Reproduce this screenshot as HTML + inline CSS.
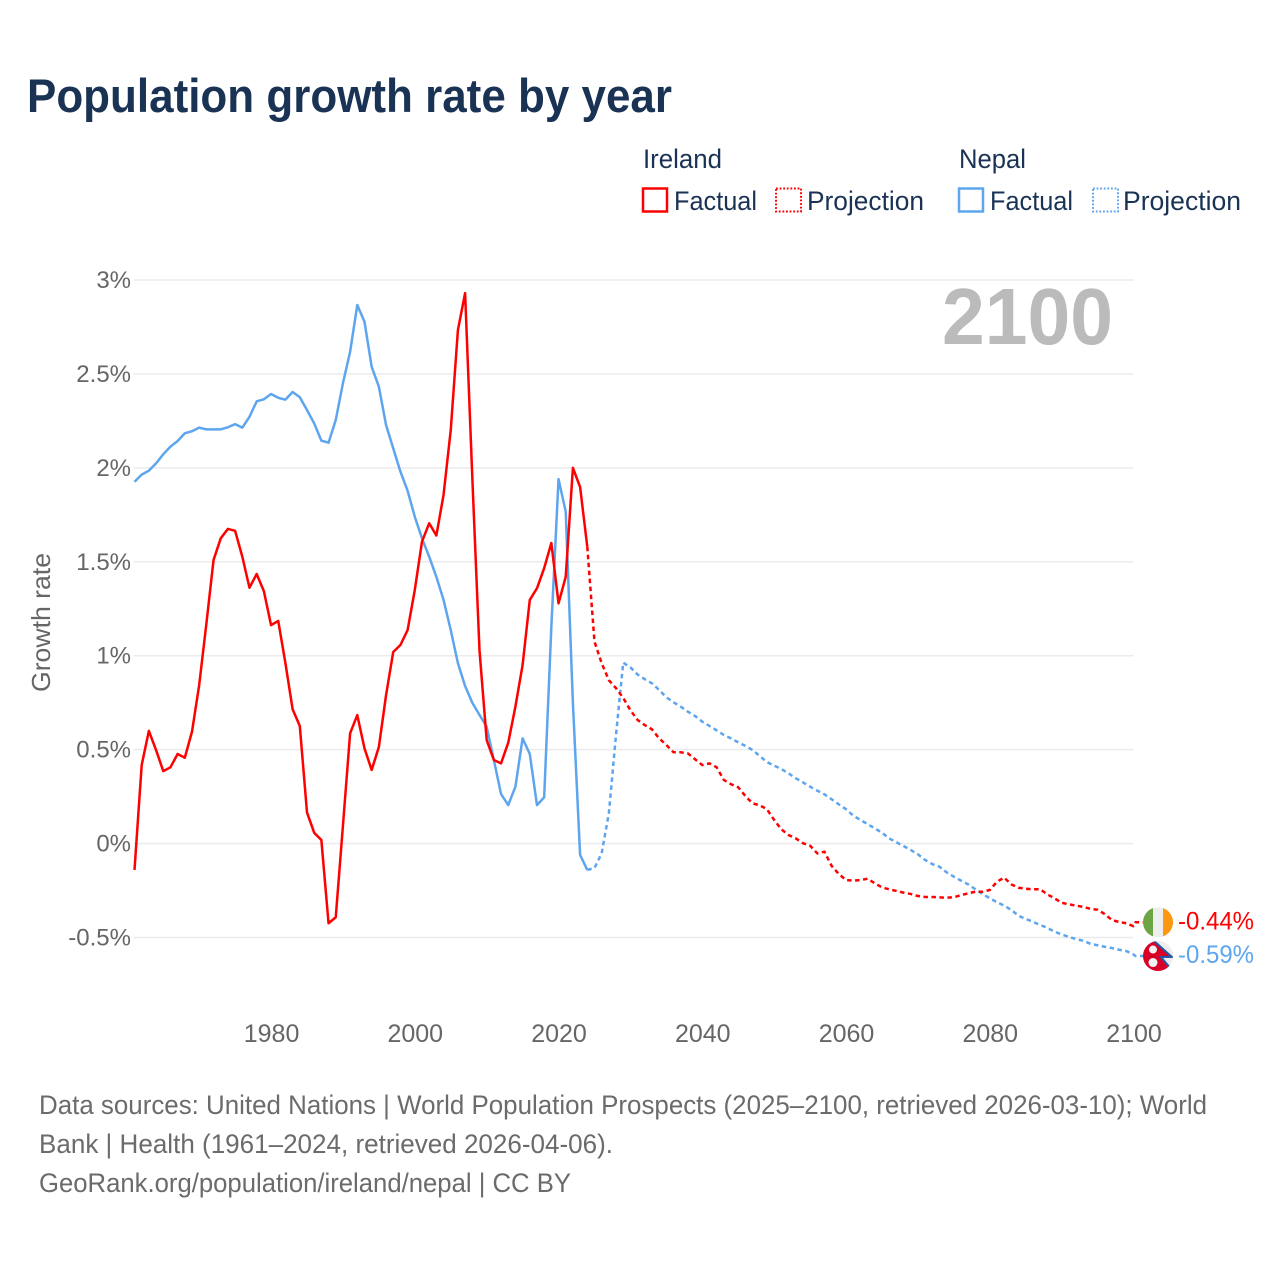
<!DOCTYPE html>
<html lang="en">
<head>
<meta charset="utf-8">
<title>Population growth rate by year</title>
<style>
  html, body { margin: 0; padding: 0; background: #fff; }
  svg { display: block; font-family: "Liberation Sans", sans-serif; }
</style>
</head>
<body>
<svg id="chart" xmlns="http://www.w3.org/2000/svg" width="1280" height="1280" viewBox="0 0 1280 1280">
  <rect x="0" y="0" width="1280" height="1280" fill="#ffffff"/>
  <text x="27" y="112" font-size="47" font-weight="bold" fill="#1a3354" textLength="645" lengthAdjust="spacingAndGlyphs">Population growth rate by year</text>

  <g font-size="27" fill="#1a3354">
    <text x="643" y="168" textLength="79" lengthAdjust="spacingAndGlyphs">Ireland</text>
    <text x="959" y="168" textLength="67" lengthAdjust="spacingAndGlyphs">Nepal</text>
    <rect x="643" y="188.5" width="24" height="23" fill="none" stroke="#ff0000" stroke-width="2.5"/>
    <text x="674" y="210" textLength="83" lengthAdjust="spacingAndGlyphs">Factual</text>
    <rect x="776" y="188.5" width="25" height="23" fill="none" stroke="#ff0000" stroke-width="2" stroke-dasharray="1.8 1.8"/>
    <text x="807" y="210" textLength="117" lengthAdjust="spacingAndGlyphs">Projection</text>
    <rect x="959" y="188.5" width="24" height="23" fill="none" stroke="#5da5ee" stroke-width="2.5"/>
    <text x="990" y="210" textLength="83" lengthAdjust="spacingAndGlyphs">Factual</text>
    <rect x="1093" y="188.5" width="25" height="23" fill="none" stroke="#5da5ee" stroke-width="2" stroke-dasharray="1.8 1.8"/>
    <text x="1123" y="210" textLength="118" lengthAdjust="spacingAndGlyphs">Projection</text>
  </g>

  <g id="grid"></g>
  <g id="y-ticks"></g>
  <g id="x-ticks"></g>

  <text transform="translate(50 622.5) rotate(-90)" text-anchor="middle" font-size="26" fill="#666666" textLength="139" lengthAdjust="spacingAndGlyphs">Growth rate</text>
  <text x="942" y="344" font-size="80" font-weight="bold" fill="#bbbbbb" textLength="171" lengthAdjust="spacingAndGlyphs">2100</text>

  <g id="series"></g>

  <defs>
    <clipPath id="flag-clip-ireland"><circle cx="0" cy="0" r="15"/></clipPath>
    <clipPath id="flag-clip-nepal"><circle cx="0" cy="0" r="15"/></clipPath>
  </defs>

  <g id="flag-ireland" clip-path="url(#flag-clip-ireland)">
    <rect x="-15" y="-15" width="30" height="30" fill="#eeeeee"/>
    <rect x="-15" y="-15" width="10" height="30" fill="#6da544"/>
    <rect x="5" y="-15" width="10" height="30" fill="#ff9811"/>
  </g>
  <g id="flag-nepal" clip-path="url(#flag-clip-nepal)">
    <rect x="-15" y="-15" width="30" height="30" fill="#eeeeee"/>
    <polygon points="-15,-16 -5,-16 14,1 3,1 13,13 13,16 -15,16" fill="#d80027"/>
    <polyline points="-5,-16 14,1 3,1 13,13" fill="none" stroke="#1f5aa8" stroke-width="2"/>
    <circle cx="-5" cy="-6.5" r="4" fill="#f2f2f2"/>
    <circle cx="-5" cy="6.5" r="4.5" fill="#f2f2f2"/>
  </g>

  <text id="label-ireland" x="1178" font-size="25" fill="#ff0000" textLength="76" lengthAdjust="spacingAndGlyphs"></text>
  <text id="label-nepal" x="1178" font-size="25" fill="#5da5ee" textLength="76" lengthAdjust="spacingAndGlyphs"></text>

  <g font-size="27" fill="#6b6b6b">
    <text x="39" y="1114" textLength="1168" lengthAdjust="spacingAndGlyphs">Data sources: United Nations | World Population Prospects (2025–2100, retrieved 2026-03-10); World</text>
    <text x="39" y="1153" textLength="574" lengthAdjust="spacingAndGlyphs">Bank | Health (1961–2024, retrieved 2026-04-06).</text>
    <text x="39" y="1192" textLength="532" lengthAdjust="spacingAndGlyphs">GeoRank.org/population/ireland/nepal | CC BY</text>
  </g>
</svg>

<script>
const yTicks = [-0.5, 0, 0.5, 1, 1.5, 2, 2.5, 3];
const yTickLabels = ['-0.5%', '0%', '0.5%', '1%', '1.5%', '2%', '2.5%', '3%'];
const xTicks = [1980, 2000, 2020, 2040, 2060, 2080, 2100];
const xTickLabels = ['1980', '2000', '2020', '2040', '2060', '2080', '2100'];

const factualStartYear = 1961;
const projectionStartYear = 2024;

const irelandFactual = [
  -0.14, 0.418, 0.60, 0.498, 0.386, 0.406, 0.477, 0.457, 0.596,
  0.844, 1.17, 1.51, 1.625, 1.675, 1.665, 1.527, 1.362, 1.435, 1.344,
  1.163, 1.185, 0.96, 0.715, 0.626, 0.166, 0.058, 0.019, -0.424, -0.392,
  0.094, 0.587, 0.684, 0.507, 0.392, 0.514, 0.79, 1.02, 1.057, 1.137,
  1.35, 1.607, 1.705, 1.64, 1.856, 2.20, 2.734, 2.93, 1.95, 1.03,
  0.551, 0.445, 0.427, 0.537, 0.729, 0.951, 1.297, 1.359, 1.466, 1.6,
  1.279, 1.42, 2.0, 1.898, 1.58
];
const nepalFactual = [
  1.926, 1.964, 1.985, 2.024, 2.072, 2.113, 2.143, 2.184, 2.195,
  2.214, 2.205, 2.205, 2.205, 2.216, 2.233, 2.214, 2.272, 2.354, 2.365,
  2.393, 2.373, 2.363, 2.404, 2.376, 2.308, 2.237, 2.145, 2.134, 2.255,
  2.45, 2.618, 2.867, 2.778, 2.538, 2.432, 2.228, 2.104, 1.98, 1.878,
  1.74, 1.625, 1.527, 1.42, 1.297, 1.137, 0.96, 0.839, 0.75, 0.685,
  0.622, 0.445, 0.264, 0.205, 0.303, 0.56, 0.477, 0.205, 0.246, 1.155,
  1.94, 1.767, 0.747, -0.06, -0.14
];
const irelandProjection = [
  1.58, 1.075, 0.96, 0.87, 0.827, 0.775,
  0.71, 0.658, 0.631, 0.608, 0.56, 0.525, 0.486, 0.486, 0.48, 0.449,
  0.418, 0.427, 0.406, 0.339, 0.316, 0.30, 0.253, 0.214, 0.204, 0.183,
  0.126, 0.076, 0.046, 0.028, 0.002, -0.011, -0.052, -0.043, -0.119, -0.162,
  -0.194, -0.197, -0.194, -0.187, -0.211, -0.233, -0.243, -0.252, -0.261, -0.268,
  -0.279, -0.284, -0.284, -0.286, -0.288, -0.286, -0.274, -0.265, -0.256, -0.256,
  -0.247, -0.203, -0.181, -0.217, -0.235, -0.24, -0.243, -0.243, -0.27, -0.291,
  -0.315, -0.323, -0.33, -0.337, -0.347, -0.352, -0.375, -0.407, -0.417, -0.424,
  -0.44
];
const nepalProjection = [
  -0.14, -0.13, -0.052, 0.161, 0.58, 0.963,
  0.938, 0.90, 0.875, 0.853, 0.818, 0.779, 0.752, 0.729, 0.702, 0.679,
  0.649, 0.626, 0.603, 0.578, 0.56, 0.539, 0.52, 0.498, 0.466, 0.434,
  0.415, 0.397, 0.374, 0.348, 0.326, 0.303, 0.282, 0.262, 0.236, 0.209,
  0.183, 0.149, 0.126, 0.104, 0.081, 0.058, 0.028, 0.007, -0.013, -0.034,
  -0.057, -0.087, -0.109, -0.123, -0.153, -0.176, -0.197, -0.217, -0.243, -0.268,
  -0.291, -0.312, -0.33, -0.353, -0.384, -0.401, -0.416, -0.433, -0.448, -0.469,
  -0.483, -0.497, -0.508, -0.517, -0.533, -0.541, -0.549, -0.556, -0.565, -0.572,
  -0.59
];

const SVG_NS = 'http://www.w3.org/2000/svg';
const plotLeft = 134.5;
const plotRight = 1133.5;
const zeroY = 843.6;
const pxPerUnit = 187.87;
const RED = '#ff0000';
const BLUE = '#5da5ee';

function xScale(year) {
  return plotLeft + (year - 1961) * (plotRight - plotLeft) / (2100 - 1961);
}
function yScale(value) {
  return zeroY - value * pxPerUnit;
}
function make(tag, attrs, parent) {
  const el = document.createElementNS(SVG_NS, tag);
  for (const k in attrs) el.setAttribute(k, attrs[k]);
  parent.appendChild(el);
  return el;
}
function linePoints(values, startYear) {
  return values.map((v, i) => xScale(startYear + i).toFixed(2) + ',' + yScale(v).toFixed(2));
}

const gridGroup = document.getElementById('grid');
const yTickGroup = document.getElementById('y-ticks');
const xTickGroup = document.getElementById('x-ticks');
const seriesGroup = document.getElementById('series');

yTicks.forEach((tick, i) => {
  const line = make('line', { x1: plotLeft - 1, x2: plotRight, y1: yScale(tick), y2: yScale(tick), stroke: '#ebebeb', 'stroke-width': 1.5 }, gridGroup);
  
  
  const label = make('text', { x: 131, y: yScale(tick) + 8, 'text-anchor': 'end', 'font-size': 24, fill: '#666666' }, yTickGroup);
  
  
  label.textContent = yTickLabels[i];
});

xTicks.forEach((tick, i) => {
  const label = make('text', { x: xScale(tick) + 0.5, y: 1042, 'text-anchor': 'middle', 'font-size': 25, fill: '#666666' }, xTickGroup);
  
  
  label.textContent = xTickLabels[i];
});

function drawLine(values, startYear, color, dashed, extraPoints) {
  const pts = linePoints(values, startYear).concat(extraPoints || []);
  const attrs = { points: pts.join(' '), fill: 'none', stroke: color, 'stroke-width': 2.5, 'stroke-linejoin': 'round' };
  if (dashed) attrs['stroke-dasharray'] = '4.5 3.5';
  return make('polyline', attrs, seriesGroup);
}

const lastIreland = irelandProjection[irelandProjection.length - 1];
const lastNepal = nepalProjection[nepalProjection.length - 1];
const flagX = xScale(2100) + 24.5;
const flagYIreland = yScale(lastIreland) - 4;
const flagYNepal = yScale(lastNepal) + 1.6;

const nepalFactualLine = drawLine(nepalFactual, factualStartYear, BLUE, false);



const nepalProjectionLine = drawLine(nepalProjection, projectionStartYear, BLUE, true,
  [(xScale(2100) + 2) + ',' + flagYNepal, (flagX - 15) + ',' + flagYNepal]);



const irelandFactualLine = drawLine(irelandFactual, factualStartYear, RED, false);



const irelandProjectionLine = drawLine(irelandProjection, projectionStartYear, RED, true,
  [(xScale(2100) + 2) + ',' + flagYIreland, (flagX - 15) + ',' + flagYIreland]);



document.getElementById('flag-ireland').setAttribute('transform', 'translate(' + flagX + ' ' + flagYIreland + ')');
document.getElementById('flag-nepal').setAttribute('transform', 'translate(' + flagX + ' ' + flagYNepal + ')');

const labelIreland = document.getElementById('label-ireland');
labelIreland.setAttribute('y', flagYIreland + 7);
labelIreland.textContent = lastIreland.toFixed(2) + '%';
const labelNepal = document.getElementById('label-nepal');
labelNepal.setAttribute('y', flagYNepal + 7);
labelNepal.textContent = lastNepal.toFixed(2) + '%';
</script>
</body>
</html>
